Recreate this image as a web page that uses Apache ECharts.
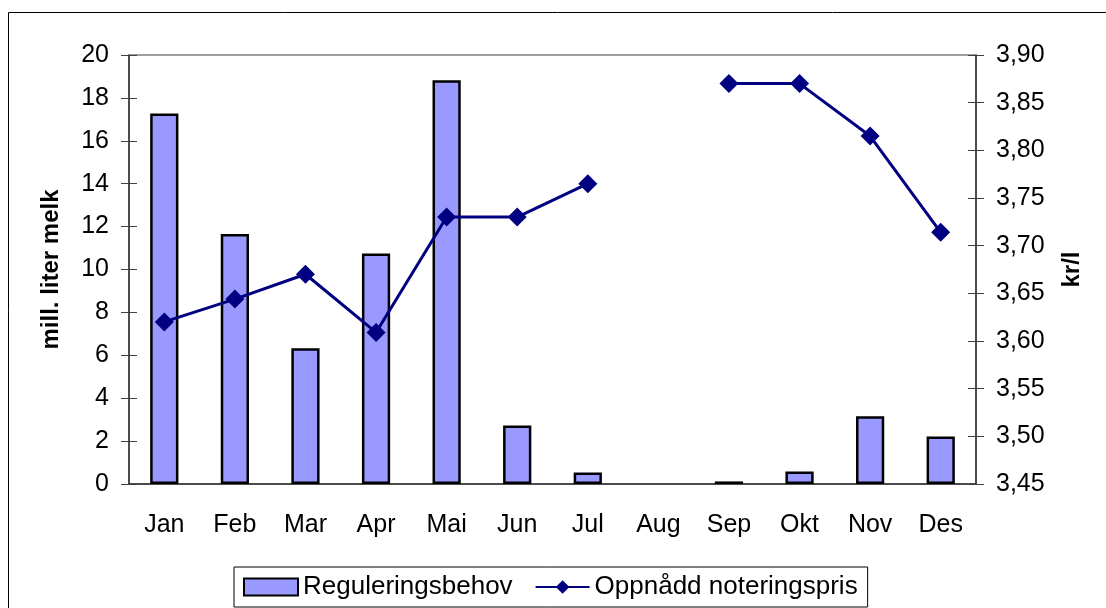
<!DOCTYPE html>
<html>
<head>
<meta charset="utf-8">
<script src="https://cdn.jsdelivr.net/npm/echarts@6/dist/echarts.min.js"></script>
<style>
  html, body { margin: 0; padding: 0; background: #fff; }
  #chart { width: 1106px; height: 608px; }
</style>
</head>
<body>
<div id="chart"></div>
<script>
const months = ['Jan', 'Feb', 'Mar', 'Apr', 'Mai', 'Jun', 'Jul', 'Aug', 'Sep', 'Okt', 'Nov', 'Des']
// mill. liter melk
const reguleringsbehov = [17.27, 11.66, 6.33, 10.75, 18.82, 2.73, 0.54, null, 0.12, 0.58, 3.16, 2.21]
// kr/l
const noteringspris = [3.62, 3.644, 3.67, 3.609, 3.73, 3.73, 3.765, null, 3.87, 3.87, 3.815, 3.714]

const font = 'Liberation Sans, Arial, sans-serif'
const axisColor = '#404040'
const leftRange = { min: 0, max: 20, interval: 2 }
const rightRange = { min: 3.45, max: 3.9, interval: 0.05 }

const chart = echarts.init(document.getElementById('chart'))

const plainLabel = { show: false }
const sameLine = { show: true, lineStyle: { color: axisColor, width: 1.5 } }

chart.setOption({
  animation: false,
  textStyle: { fontFamily: font },
  graphic: [{
    type: 'rect',
    shape: { x: 8.5, y: 12.5, width: 1110, height: 610 },
    style: { fill: null, stroke: '#000', lineWidth: 1 },
    silent: true
  }],
  grid: {
    left: 129,
    right: 130,
    top: 55,
    bottom: 124
  },
  legend: {
    left: 234,
    top: 567,
    padding: [7, 10, 7, 9],
    itemGap: 22,
    itemWidth: 54,
    itemHeight: 17,
    borderColor: '#000',
    borderWidth: 1,
    textStyle: { fontSize: 26, color: '#000', fontFamily: font },
    data: [
      { name: 'Reguleringsbehov', icon: 'rect' },
      { name: 'Oppnådd noteringspris' }
    ]
  },
  xAxis: [{
    type: 'category',
    data: months,
    position: 'bottom',
    axisLine: sameLine,
    axisTick: { length: 8, lineStyle: { color: axisColor } },
    axisLabel: { fontSize: 25, color: '#000', margin: 29 },
    splitLine: { show: false }
  }, {
    type: 'category',
    data: months,
    position: 'bottom',
    axisLine: sameLine,
    axisTick: { inside: true, length: 8, lineStyle: { color: axisColor } },
    axisLabel: plainLabel,
    splitLine: { show: false }
  }, {
    type: 'category',
    data: months,
    position: 'top',
    axisLine: { lineStyle: { color: '#808080', width: 1.5 } },
    axisTick: { show: false },
    axisLabel: plainLabel,
    splitLine: { show: false }
  }],
  yAxis: [{
    type: 'value',
    position: 'left',
    ...leftRange,
    name: 'mill. liter melk',
    nameLocation: 'middle',
    nameRotate: 90,
    nameGap: 66,
    nameTextStyle: { fontSize: 24, fontWeight: 'bold', color: '#000' },
    axisLine: sameLine,
    axisTick: { show: true, length: 8, lineStyle: { color: axisColor } },
    axisLabel: { fontSize: 25, color: '#000', margin: 20 },
    splitLine: { show: false }
  }, {
    type: 'value',
    position: 'right',
    ...rightRange,
    name: 'kr/l',
    nameLocation: 'middle',
    nameRotate: 90,
    nameGap: 84,
    nameTextStyle: { fontSize: 24, fontWeight: 'bold', color: '#000' },
    axisLine: sameLine,
    axisTick: { show: true, length: 8, lineStyle: { color: axisColor } },
    axisLabel: {
      fontSize: 25,
      color: '#000',
      margin: 20,
      formatter: v => v.toFixed(2).replace('.', ',')
    },
    splitLine: { show: false }
  }, {
    type: 'value',
    position: 'left',
    ...leftRange,
    axisLine: sameLine,
    axisTick: { show: true, inside: true, length: 8, lineStyle: { color: axisColor } },
    axisLabel: plainLabel,
    splitLine: { show: false }
  }, {
    type: 'value',
    position: 'right',
    ...rightRange,
    axisLine: sameLine,
    axisTick: { show: true, inside: true, length: 8, lineStyle: { color: axisColor } },
    axisLabel: plainLabel,
    splitLine: { show: false }
  }],
  series: [{
    name: 'Reguleringsbehov',
    type: 'bar',
    xAxisIndex: 0,
    yAxisIndex: 0,
    barWidth: '40%',
    data: reguleringsbehov,
    itemStyle: { color: '#9999FF', borderColor: '#000', borderWidth: 2.5 }
  }, {
    name: 'Oppnådd noteringspris',
    type: 'line',
    xAxisIndex: 0,
    yAxisIndex: 1,
    data: noteringspris,
    symbol: 'diamond',
    symbolSize: 19,
    connectNulls: false,
    lineStyle: { color: '#000080', width: 3 },
    itemStyle: { color: '#000080' }
  }]
})
</script>
</body>
</html>
